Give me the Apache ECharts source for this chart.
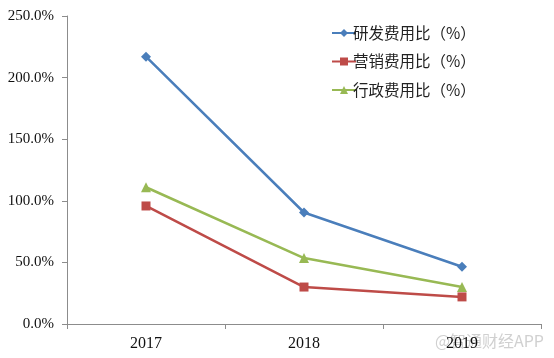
<!DOCTYPE html>
<html><head><meta charset="utf-8">
<script src="https://cdn.jsdelivr.net/npm/echarts@6/dist/echarts.min.js"></script>
<style>html,body{margin:0;padding:0;background:#fff}#c{width:554px;height:358px}</style>
</head><body><div id="c"></div>
<script>
const categories = ['2017', '2018', '2019'];
const rdRatio = [217.0, 90.5, 46.5];
const salesRatio = [95.8, 30.0, 22.0];
const adminRatio = [111.0, 53.5, 30.0];
const seriesNames = ['研发费用比（%）', '营销费用比（%）', '行政费用比（%）'];

const chart = echarts.init(document.getElementById('c'), null, {renderer: 'canvas'});
const serif = '"Liberation Serif", "Times New Roman", serif';
const cjk = '"Noto Sans CJK SC", sans-serif';
function mk(name, data, color, symbol, size) {
  return {
    name: name, type: 'line', data: data, symbol: symbol, symbolSize: size,
    lineStyle: {color: color, width: 2.5}, itemStyle: {color: color},
    animation: false
  };
}
chart.setOption({
  animation: false,
  grid: {left: 67, right: 13, top: 16, bottom: 34, containLabel: false},
  legend: {
    orient: 'vertical', left: 326, top: 18,
    itemWidth: 24, itemHeight: 10, itemGap: 8.5,
    textStyle: {fontFamily: cjk, fontSize: 15.5, color: '#222', lineHeight: 20, padding: [0, 0, 0, -8]},
    data: seriesNames
  },
  xAxis: {
    type: 'category', data: categories, boundaryGap: true,
    axisLine: {lineStyle: {color: '#8c8c8c', width: 1}},
    axisTick: {show: true, length: 5, lineStyle: {color: '#8c8c8c'}},
    axisLabel: {fontFamily: serif, fontSize: 16, color: '#111', margin: 12}
  },
  yAxis: {
    type: 'value', min: 0, max: 250, interval: 50,
    axisLine: {show: true, lineStyle: {color: '#8c8c8c', width: 1}},
    axisTick: {show: true, length: 5, lineStyle: {color: '#8c8c8c'}},
    splitLine: {show: false},
    axisLabel: {fontFamily: serif, fontSize: 15, color: '#111', margin: 13,
      formatter: v => v.toFixed(1) + '%'}
  },
  graphic: [{
    type: 'text', right: 10, top: 333, silent: true,
    style: {text: '@智通财经APP', fontFamily: cjk, fontSize: 16, fill: 'rgba(170,170,170,0.55)'}
  }],
  series: [
    mk(seriesNames[0], rdRatio, '#4A7EBB', 'diamond', 10),
    mk(seriesNames[1], salesRatio, '#BE4B48', 'rect', 9),
    mk(seriesNames[2], adminRatio, '#98B954', 'triangle', 10)
  ]
});
</script></body></html>
